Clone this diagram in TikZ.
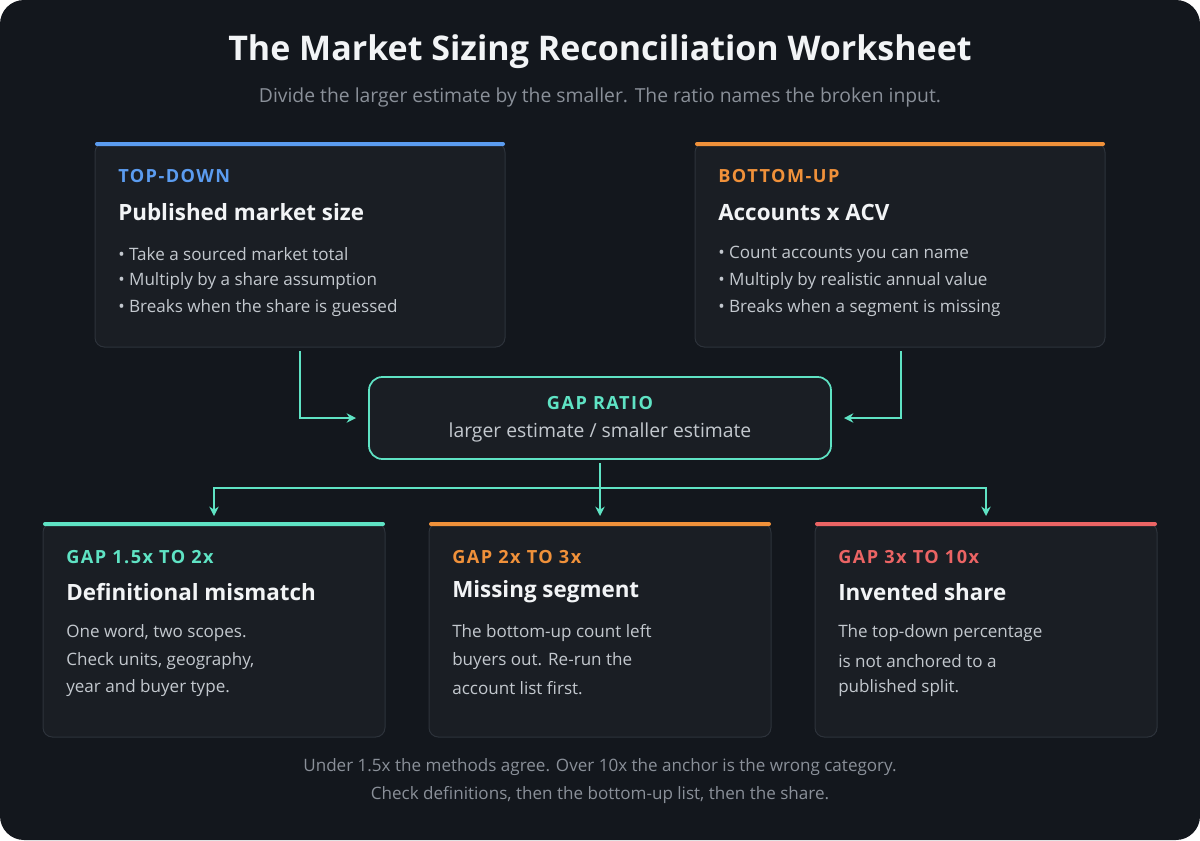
\documentclass[tikz,border=0pt]{standalone}
\usepackage{fontspec}
\setmainfont{Open Sans}[BoldFont={Open Sans Bold}]
\usetikzlibrary{arrows.meta}
\definecolor{bg}{HTML}{13171D}
\definecolor{card}{HTML}{1A1E24}
\definecolor{cardb}{HTML}{2D333B}
\definecolor{cblue}{HTML}{5B9CF0}
\definecolor{corange}{HTML}{F0913A}
\definecolor{cteal}{HTML}{5FE3C4}
\definecolor{cred}{HTML}{EB6464}
\definecolor{txt}{HTML}{F2F4F6}
\definecolor{sub}{HTML}{C3C8CE}
\definecolor{dim}{HTML}{8A9099}
\tikzset{
 card/.style={fill=card,draw=cardb,line width=0.75pt,rounded corners=7pt},
 lab/.style={anchor=west,inner sep=0pt,font=\bfseries\fontsize{13.6}{16}\selectfont\addfontfeatures{LetterSpace=8}},
 ttl/.style={anchor=west,inner sep=0pt,text=txt,font=\bfseries\fontsize{16.8}{20}\selectfont},
 bul/.style={anchor=west,inner sep=0pt,text=sub,font=\fontsize{12.8}{15}\selectfont},
 conn/.style={draw=cteal,line width=1.3pt,-{Stealth[length=7pt,width=7pt]}},
}
\begin{document}
\begin{tikzpicture}[x=0.75pt,y=-0.75pt]
\useasboundingbox (0,0) rectangle (1200,840);
\fill[white] (0,0) rectangle (1200,840);
\fill[bg,rounded corners=18pt] (0,0) rectangle (1200,840);
\node[text=txt,font=\bfseries\fontsize{25.5}{30}\selectfont] (title) at (600,52) {The Market Sizing Reconciliation Worksheet};
\node[text=dim,font=\fontsize{14.5}{17}\selectfont] (subt) at (600,97) {Divide the larger estimate by the smaller. The ratio names the broken input.};
\foreach \x/\c/\n in {95/cblue/td,695/corange/bu}{
 \draw[card] (\x,143) rectangle ++(410,204);
 \fill[\c,rounded corners=1.5pt] (\x,142) rectangle ++(410,4);
 \coordinate (\n) at (\x,143);
}
\node[lab,text=cblue] (tdl) at (118,176) {TOP-DOWN};
\node[ttl] (tdt) at (118,212) {Published market size};
\node[bul] (tdb1) at (118,254) {• Take a sourced market total};
\node[bul] (tdb2) at (118,281) {• Multiply by a share assumption};
\node[bul] (tdb3) at (118,308) {• Breaks when the share is guessed};
\node[lab,text=corange] (bul) at (718,176) {BOTTOM-UP};
\node[ttl] (but) at (718,212) {Accounts x ACV};
\node[bul] (bub1) at (718,254) {• Count accounts you can name};
\node[bul] (bub2) at (718,281) {• Multiply by realistic annual value};
\node[bul] (bub3) at (718,308) {• Breaks when a segment is missing};
\draw[fill=card,draw=cteal,line width=1.3pt,rounded corners=10pt] (369,377) rectangle (831,459);
\node[lab,anchor=center,text=cteal] (gr) at (600,403) {GAP RATIO};
\node[text=sub,font=\fontsize{14.5}{17}\selectfont] (grs) at (600,432) {larger estimate / smaller estimate};
\coordinate (a1) at (300,351); \coordinate (a1e) at (356,418);
\coordinate (a2) at (901,351); \coordinate (a2e) at (844,418);
\draw[conn] (a1) |- (a1e);
\draw[conn] (a2) |- (a2e);
\coordinate (g0) at (600,463); \coordinate (gj) at (600,488);
\coordinate (b1) at (214,516); \coordinate (b2) at (600,516); \coordinate (b3) at (986,516);
\draw[conn] (g0) -- (b2);
\draw[conn] (gj) -| (b1);
\draw[conn] (gj) -| (b3);
\foreach \x/\c in {43/cteal,429/corange,815/cred}{
 \draw[card] (\x,523) rectangle ++(342,214);
 \fill[\c,rounded corners=1.5pt] (\x,522) rectangle ++(342,4);
}
\node[lab,text=cteal] (l1) at (66,557) {GAP 1.5x TO 2x};
\node[ttl] (t1) at (66,592) {Definitional mismatch};
\node[bul] (p1a) at (66,633) {One word, two scopes.};
\node[bul] (p1b) at (66,661) {Check units, geography,};
\node[bul] (p1c) at (66,688) {year and buyer type.};
\node[lab,text=corange] (l2) at (452,557) {GAP 2x TO 3x};
\node[ttl] (t2) at (452,592) {Missing segment};
\node[bul] (p2a) at (452,633) {The bottom-up count left};
\node[bul] (p2b) at (452,661) {buyers out. Re-run the};
\node[bul] (p2c) at (452,688) {account list first.};
\node[lab,text=cred] (l3) at (838,557) {GAP 3x TO 10x};
\node[ttl] (t3) at (838,592) {Invented share};
\node[bul] (p3a) at (838,633) {The top-down percentage};
\node[bul] (p3b) at (838,661) {is not anchored to a};
\node[bul] (p3c) at (838,688) {published split.};
\node[text=dim,font=\fontsize{12.8}{15}\selectfont] (f1) at (600,767) {Under 1.5x the methods agree. Over 10x the anchor is the wrong category.};
\node[text=dim,font=\fontsize{12.8}{15}\selectfont] (f2) at (600,795) {Check definitions, then the bottom-up list, then the share.};
\end{tikzpicture}
\end{document}
